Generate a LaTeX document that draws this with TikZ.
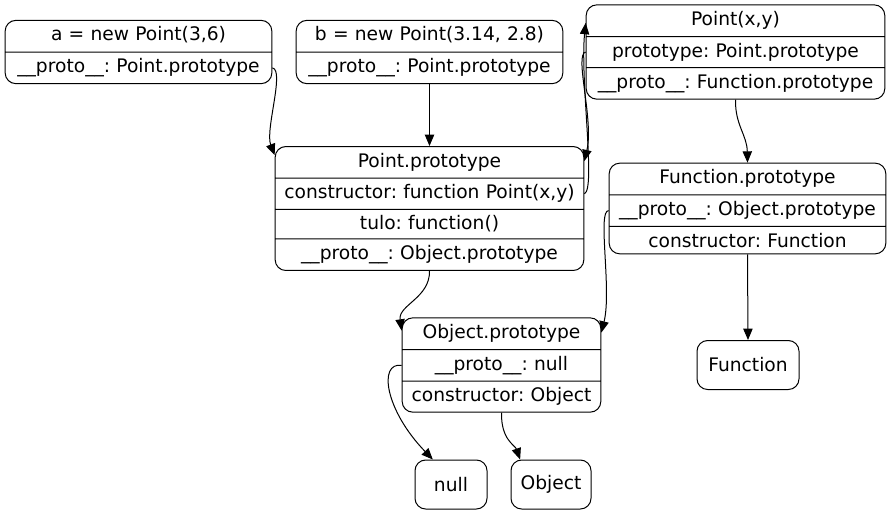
\documentclass[tikz,border=0pt]{standalone}
\usepackage{fontspec}
\setmainfont{DejaVu Sans}
\usetikzlibrary{arrows.meta,shapes.multipart}
\frenchspacing

\begin{document}
\begin{tikzpicture}[x=0.75pt,y=-0.75pt,line width=0.75pt,font=\fontsize{14pt}{16pt}\selectfont,
	>={Triangle[length=8.5pt,width=7pt]},
	rec/.style={draw,rectangle split,rounded corners=8pt,align=center,inner xsep=3pt,inner ysep=4.5pt,text height=10.5pt,text depth=3.5pt},
	box/.style={draw,rounded corners=8pt,minimum height=36.75pt,inner sep=0pt}]
	\useasboundingbox (0,0) rectangle (893,515);

	\node[rec,rectangle split parts=2,text width=194pt](a) at (138.5,52) {a = new Point(3,6) \nodepart{two} \_\_proto\_\_: Point.prototype};
	\node[rec,rectangle split parts=2,text width=194pt](b) at (429.5,52) {b = new Point(3.14, 2.8) \nodepart{two} \_\_proto\_\_: Point.prototype};
	\node[rec,rectangle split parts=3,text width=218pt](px) at (735.5,52) {Point(x,y) \nodepart{two} prototype: Point.prototype \nodepart{three} \_\_proto\_\_: Function.prototype};
	\node[rec,rectangle split parts=4,text width=225.5pt](pp) at (429.5,208.5) {Point.prototype \nodepart{two} constructor: function Point(x,y) \nodepart{three} tulo: function() \nodepart{four} \_\_proto\_\_: Object.prototype};
	\node[rec,rectangle split parts=3,text width=201.5pt](fp) at (747.5,208.5) {Function.prototype \nodepart{two} \_\_proto\_\_: Object.prototype \nodepart{three} constructor: Function};
	\node[rec,rectangle split parts=3,text width=143pt](op) at (501.5,365) {Object.prototype \nodepart{two} \_\_proto\_\_: null \nodepart{three} constructor: Object};
	\node[box,minimum width=54pt](null) at (451,484.5) {null};
	\node[box,minimum width=60pt](obj) at (551,484.5) {Object};
	\node[box,minimum width=76.5pt](fn) at (748,365) {Function};

	\draw[->] (a.two east) .. controls (285,70) and (265,130) .. (pp.161);
	\draw[->] (b.south) -- (pp.north);
	\draw[->] (pp.two east) .. controls (596,190) and (580,80) .. (px.169);
	\draw[->] (px.two west) .. controls (574,54) and (594,120) .. (pp.17);
	\draw[->] (px.south) .. controls (735,125) and (747,135) .. (fp.north);
	\draw[->] (fp.two west) .. controls (597,210) and (612,290) .. (op.18);
	\draw[->] (fp.south) -- (fn.north);
	\draw[->] (pp.south) .. controls (430,298) and (398,305) .. (op.161);
	\draw[->] (op.two west) .. controls (378,362) and (385,410) .. (null.126);
	\draw[->] (op.south) .. controls (501,440) and (515,445) .. (obj.141);
\end{tikzpicture}
\end{document}
